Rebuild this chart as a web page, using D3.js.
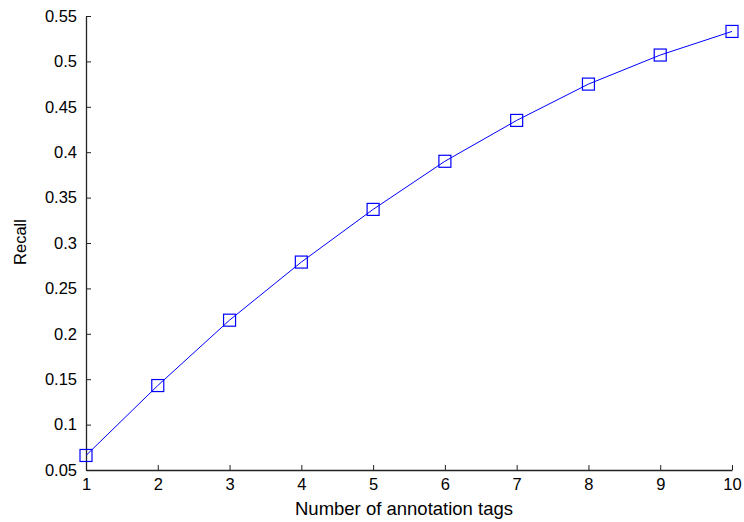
<!DOCTYPE html>
<html>
<head>
<meta charset="utf-8">
<script src="https://cdn.jsdelivr.net/npm/d3@7"></script>
<style>
  body { margin: 0; background: #fff; }
  svg { font-family: "Liberation Sans", Arial, sans-serif; }
</style>
</head>
<body>
<svg id="chart" width="744" height="522"></svg>
<script>
'use strict';

// data
const tags = [1, 2, 3, 4, 5, 6, 7, 8, 9, 10];
const recall = [0.066, 0.143, 0.215, 0.279, 0.337, 0.390, 0.435, 0.475, 0.507, 0.533];
const yTicks = [0.05, 0.1, 0.15, 0.2, 0.25, 0.3, 0.35, 0.4, 0.45, 0.5, 0.55];

const svg = d3.select('#chart');
const margin = { left: 86, right: 12, top: 16, bottom: 52 };
const W = 744, H = 522;

const x = d3.scaleLinear().domain([1, 10]).range([margin.left, W - margin.right]);
const y = d3.scaleLinear().domain([0.05, 0.55]).range([H - margin.bottom, margin.top]);

// x axis (ticks inward)
const gx = svg.append('g')
    .attr('transform', `translate(0,${H - margin.bottom})`)
    .call(d3.axisBottom(x).tickValues(tags).tickSizeInner(-5).tickSizeOuter(0).tickPadding(8));

// y axis (ticks inward)
const gy = svg.append('g')
    .attr('transform', `translate(${margin.left},0)`)
    .call(d3.axisLeft(y).tickValues(yTicks).tickSizeInner(-5).tickSizeOuter(0).tickPadding(9)
        .tickFormat(d => String(+d.toFixed(2))));

[gx, gy].forEach(g => {
    g.select('.domain').attr('stroke', '#222').attr('stroke-width', 1.3);
    g.selectAll('.tick line').attr('stroke', '#222');
    g.selectAll('.tick text').attr('font-size', 16.5).attr('fill', '#000').attr('font-family', '"Liberation Sans", Arial, sans-serif');
});

// line
const line = d3.line().x((d, i) => x(tags[i])).y(d => y(d));
svg.append('path')
    .datum(recall)
    .attr('fill', 'none')
    .attr('stroke', '#0000ff')
    .attr('stroke-width', 1)
    .attr('d', line);

// square markers
const s = 12;
svg.selectAll('rect.mk')
    .data(recall)
    .enter()
    .append('rect')
    .attr('class', 'mk')
    .attr('x', (d, i) => x(tags[i]) - s / 2)
    .attr('y', d => y(d) - s / 2)
    .attr('width', s)
    .attr('height', s)
    .attr('fill', 'none')
    .attr('stroke', '#0000ff')
    .attr('stroke-width', 1.2);

// axis labels
svg.append('text')
    .attr('x', 404)
    .attr('y', 515)
    .attr('text-anchor', 'middle')
    .attr('font-size', 18.5)
    .text('Number of annotation tags');

svg.append('text')
    .attr('transform', `translate(26,242) rotate(-90)`)
    .attr('text-anchor', 'middle')
    .attr('font-size', 16.5)
    .text('Recall');
</script>
</body>
</html>
